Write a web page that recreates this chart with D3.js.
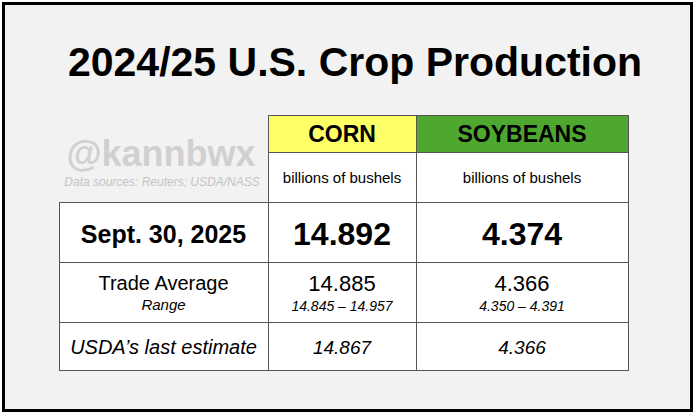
<!DOCTYPE html><html><head><meta charset="utf-8"><script src="https://cdn.jsdelivr.net/npm/d3@7"></script>
<style>body{margin:0;background:#fff}</style></head><body><script>
const crops=["CORN","SOYBEANS"];
const cropColors=["#ffff66","#4ea72e"];
const units=["billions of bushels","billions of bushels"];
const septValues=["14.892","4.374"];
const tradeAvg=["14.885","4.366"];
const tradeRange=["14.845 – 14.957","4.350 – 4.391"];
const usdaLast=["14.867","4.366"];
const rowLabels=["Sept. 30, 2025","Trade Average","USDA’s last estimate"];

const W=695,H=416,F="Liberation Sans, Arial, sans-serif";
const svg=d3.select("body").append("svg").attr("width",W).attr("height",H);
svg.append("rect").attr("x",3.5).attr("y",3.5).attr("width",688).attr("height",407).attr("fill","#f2f2f2").attr("stroke","#000").attr("stroke-width",3);
svg.append("text").attr("x",355).attr("y",76).attr("text-anchor","middle").attr("font-family",F).attr("font-weight","bold").attr("font-size",41).text("2024/25 U.S. Crop Production");
svg.append("text").attr("x",161).attr("y",166).attr("text-anchor","middle").attr("font-family",F).attr("font-weight","bold").attr("font-size",36).attr("fill","#d0d0d0").text("@kannbwx");
svg.append("text").attr("x",162).attr("y",186).attr("text-anchor","middle").attr("font-family",F).attr("font-style","italic").attr("font-size",12).attr("fill","#c4c4c4").text("Data sources: Reuters; USDA/NASS");

const x=d3.scaleOrdinal().domain(["label",...crops]).range([59,268,416]);
const cw={label:209,CORN:148,SOYBEANS:212};
const rows=[115,152,202,262,322,370];
const S="#555";
function cell(c,r0,r1,fill){svg.append("rect").attr("x",x(c)+.5).attr("y",rows[r0]+.5).attr("width",cw[c]).attr("height",rows[r1]-rows[r0]).attr("fill",fill||"#fff").attr("stroke",S).attr("stroke-width",1);}
function txt(xx,y,t,o){const e=svg.append("text").attr("x",xx).attr("y",y).attr("text-anchor","middle").attr("font-family",F).attr("font-size",o.s).text(t);if(o.b)e.attr("font-weight","bold");if(o.i)e.attr("font-style","italic");}
crops.forEach((c,i)=>{
  cell(c,1,2);cell(c,2,3);cell(c,3,4);cell(c,4,5);cell(c,0,1,cropColors[i]);
  const cx=x(c)+cw[c]/2;
  txt(cx,142,c,{s:23,b:1});
  txt(cx,183,units[i],{s:15});
  txt(cx,245,septValues[i],{s:32,b:1});
  txt(cx,291,tradeAvg[i],{s:22});
  txt(cx,311,tradeRange[i],{s:14,i:1});
  txt(cx,354,usdaLast[i],{s:19,i:1});
});
["label"].forEach(c=>{cell(c,2,3);cell(c,3,4);cell(c,4,5);});
const lx=59+209/2;
txt(lx,243,rowLabels[0],{s:25,b:1});
txt(lx,290,rowLabels[1],{s:20});
txt(lx,310,"Range",{s:15,i:1});
txt(lx,354,rowLabels[2],{s:20,i:1});
</script></body></html>
